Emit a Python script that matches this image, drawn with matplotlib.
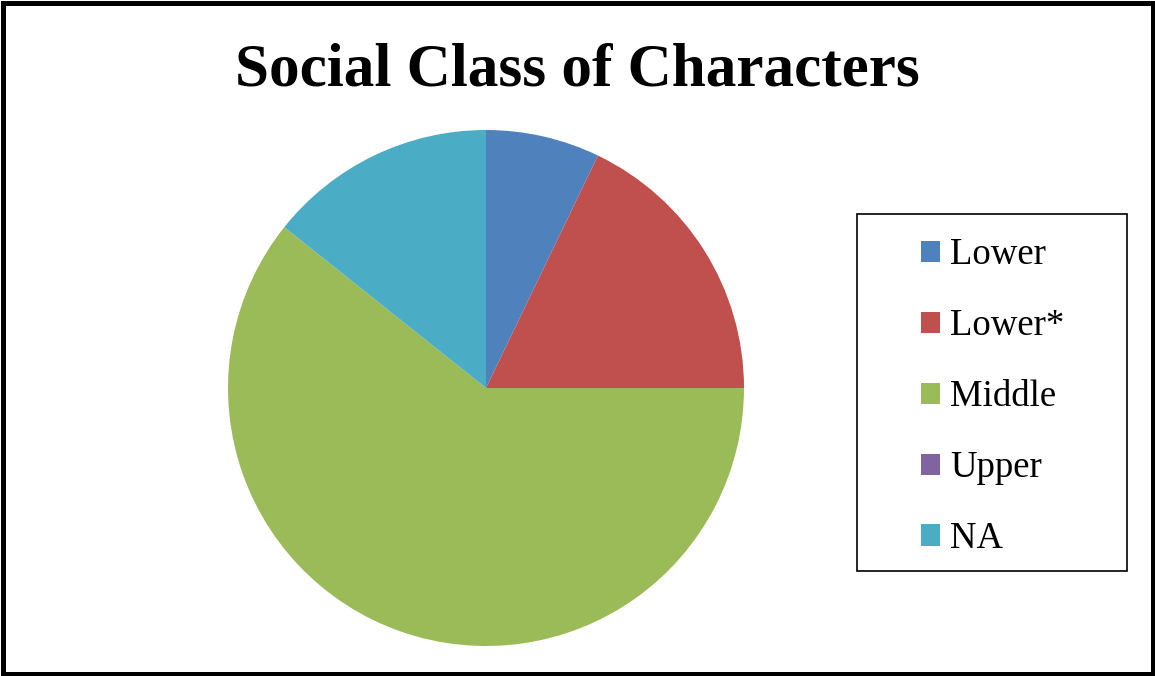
import matplotlib
matplotlib.use("Agg")
import matplotlib.pyplot as plt
from matplotlib.patches import Rectangle

# Character counts by social class
labels = ["Lower", "Lower*", "Middle", "Upper", "NA"]
counts = [2, 5, 17, 0, 4]
colors = ["#4F81BD", "#C0504D", "#9BBB59", "#8064A2", "#4BACC6"]

W, H = 1155, 676
fig = plt.figure(figsize=(W / 100, H / 100), dpi=100)
fig.patch.set_facecolor("white")

# Pie axes: centre (486, 388) px, radius 258 px
cx, cy, r = 486, 388, 258
ax = fig.add_axes([(cx - r) / W, (H - cy - r) / H, 2 * r / W, 2 * r / H])
wedges, _ = ax.pie(counts, colors=colors, startangle=90, counterclock=False,
                   radius=1.0, wedgeprops=dict(linewidth=0))
ax.set_xlim(-1, 1)
ax.set_ylim(-1, 1)
ax.set_aspect("equal")
ax.axis("off")

fig.text(577 / W, 1 - 70 / H, "Social Class of Characters", ha="center", va="center",
         fontsize=44, fontweight="bold", family="Liberation Serif")

# Legend frame
fig.patches.append(Rectangle((857 / W, 1 - 571 / H), 270 / W, 357 / H,
                             transform=fig.transFigure, fill=False,
                             edgecolor="black", linewidth=1.2))
leg = fig.legend(wedges, labels, loc="upper left",
                 bbox_to_anchor=(921 / W, 1 - 238 / H),
                 frameon=False, prop={"family": "Liberation Serif", "size": 26.5},
                 handlelength=0.52, handleheight=0.52, handletextpad=0.28,
                 labelspacing=0.99, borderpad=0, borderaxespad=0)

# Outer border
lw = 5
fig.patches.append(Rectangle((lw / 2 / W, lw / 2 / H), 1 - lw / W, 1 - lw / H,
                             transform=fig.transFigure, fill=False,
                             edgecolor="black", linewidth=lw * 0.72))

fig.savefig("out.png", dpi=100)
